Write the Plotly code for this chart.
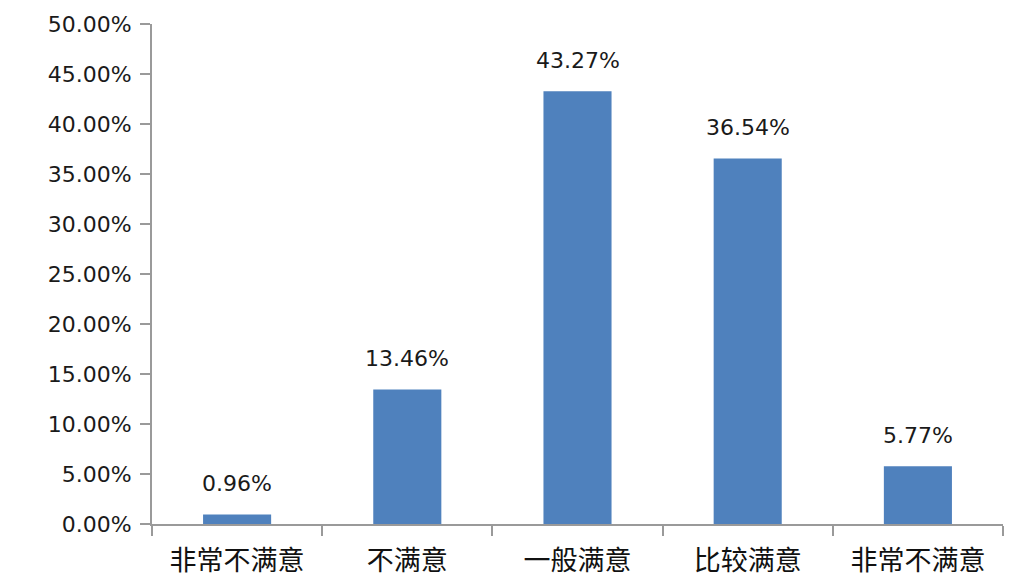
import plotly.graph_objects as go

categories = ["非常不满意", "不满意", "一般满意", "比较满意", "非常不满意"]
values = [0.96, 13.46, 43.27, 36.54, 5.77]
y_ticks = [0, 5, 10, 15, 20, 25, 30, 35, 40, 45, 50]

xs = list(range(len(categories)))
AXIS = "#9a9a9a"
BAR = "#4f81bd"

fig = go.Figure()
fig.add_trace(go.Bar(x=xs, y=values, marker=dict(color=BAR, line=dict(width=0)),
                     width=0.4, hoverinfo="skip"))

for x, v in zip(xs, values):
    fig.add_annotation(x=x, y=v, text=f"{v:.2f}%", showarrow=False, yshift=31,
                       font=dict(family="DejaVu Sans", size=22, color="#1a1a1a"))

fig.update_layout(
    width=1022, height=587,
    margin=dict(l=144, r=27, t=16, b=71),
    plot_bgcolor="white", paper_bgcolor="white",
    showlegend=False,
)
fig.update_xaxes(
    range=[-0.5, len(categories) - 0.5], automargin=False,
    tickvals=xs, ticktext=categories, ticks="",
    tickfont=dict(family="Noto Sans CJK SC", size=27, color="#111111"),
    showline=True, linecolor=AXIS, linewidth=2, showgrid=False, zeroline=False,
    ticklabelstandoff=12,
    minor=dict(tickvals=[i - 0.5 for i in range(len(categories) + 1)],
               ticks="outside", ticklen=10, tickcolor=AXIS, tickwidth=2, showgrid=False),
)
fig.update_yaxes(
    range=[0, 50], automargin=False, tickvals=y_ticks, ticktext=[f"{t:.2f}%" for t in y_ticks],
    ticks="outside", ticklen=10, tickcolor=AXIS, tickwidth=2,
    tickfont=dict(family="DejaVu Sans", size=22, color="#1a1a1a"),
    showline=True, linecolor=AXIS, linewidth=2, showgrid=False, zeroline=False,
    ticklabelstandoff=4,
)

fig.write_html("out.html")
